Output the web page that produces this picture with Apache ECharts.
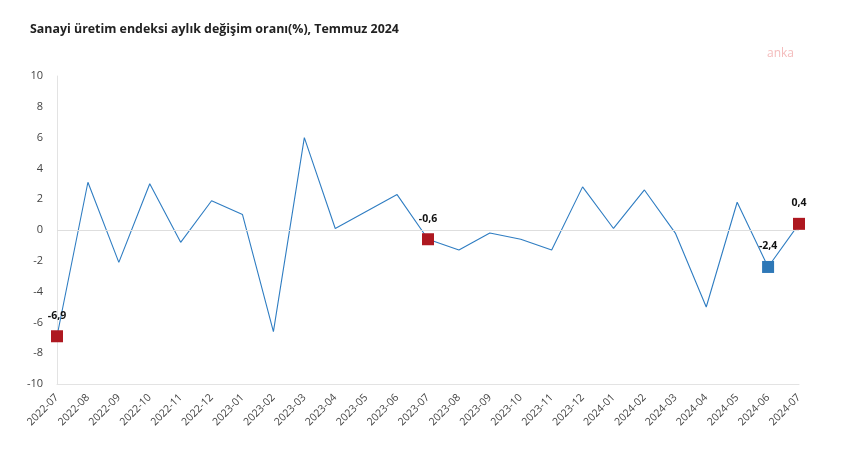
<!DOCTYPE html>
<html><head><meta charset="utf-8">
<script src="https://cdn.jsdelivr.net/npm/echarts@6/dist/echarts.min.js"></script>
<style>html,body{margin:0;padding:0;background:#fff}#c{width:841px;height:473px}</style>
</head><body><div id="c"></div>
<script>
const categories = ["2022-07","2022-08","2022-09","2022-10","2022-11","2022-12","2023-01","2023-02","2023-03","2023-04","2023-05","2023-06","2023-07","2023-08","2023-09","2023-10","2023-11","2023-12","2024-01","2024-02","2024-03","2024-04","2024-05","2024-06","2024-07"];
const values = [-6.9,3.1,-2.1,3.0,-0.8,1.9,1.0,-6.6,6.0,0.1,1.2,2.3,-0.6,-1.3,-0.2,-0.6,-1.3,2.8,0.1,2.6,-0.2,-5.0,1.8,-2.4,0.4];
const highlightIdx = [0,12,23,24];
const highlightKind = ["red","red","blue","red"];
const yTicks = [-10,-8,-6,-4,-2,0,2,4,6,8,10];

const colors = {red:"#AE1820", blue:"#2E78B7"};
const fmt = v => String(v).replace('.', ',');
const chart = echarts.init(document.getElementById('c'));
const font = "'Open Sans', 'Noto Sans', sans-serif";
chart.setOption({
  animation:false,
  textStyle:{fontFamily:font},
  title:[{text:"Sanayi üretim endeksi aylık değişim oranı(%), Temmuz 2024",left:25,top:18,
    textStyle:{fontSize:12.4,fontWeight:'bold',color:'#222',fontFamily:font}},
    {text:"anka",left:762,top:43,textStyle:{fontSize:12,fontWeight:'normal',color:'#f4bcbc',fontFamily:font}}],
  grid:{left:57,right:42,top:76,bottom:89},
  xAxis:{type:'category',data:categories,boundaryGap:false,
    axisLine:{show:true,onZero:false,lineStyle:{color:'#e3e3e3'}},
    axisTick:{show:false},
    axisLabel:{rotate:45,fontSize:10.5,color:'#444',margin:12,interval:0}},
  yAxis:{type:'value',min:yTicks[0],max:yTicks[yTicks.length-1],interval:2,
    axisLine:{show:true,lineStyle:{color:'#e3e3e3'}},
    axisTick:{show:false},splitLine:{show:false},
    axisLabel:{fontSize:11,color:'#444',margin:14}},
  series:[{type:'line',data:values,symbol:'none',lineStyle:{color:'#2F7DC2',width:1.1},
      markLine:{silent:true,symbol:'none',label:{show:false},lineStyle:{color:'#dedede',type:'solid',width:1},data:[{yAxis:0}]}},
    {type:'scatter',symbol:'rect',symbolSize:12,
      data:highlightIdx.map((i,k)=>({value:[i,values[i]],itemStyle:{color:colors[highlightKind[k]],opacity:1}})),
      label:{show:true,position:'top',distance:9,fontSize:10.5,fontWeight:'bold',color:'#111',
        formatter:p=>fmt(p.value[1])},z:5}]
});
</script></body></html>
